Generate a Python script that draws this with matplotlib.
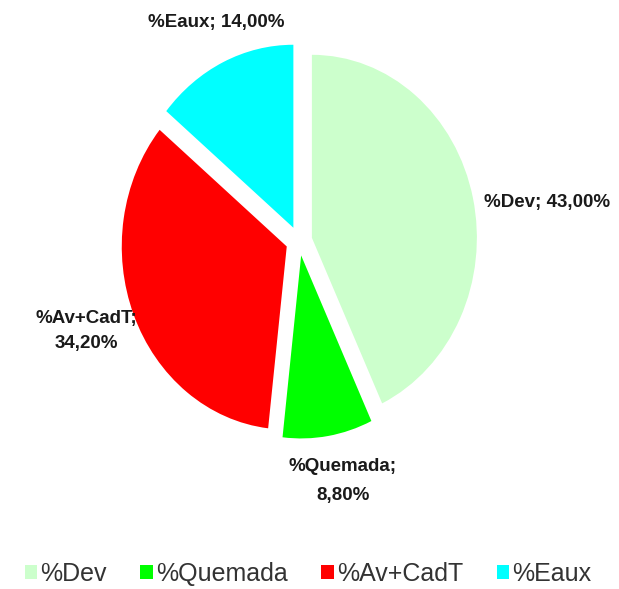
import matplotlib
matplotlib.use("Agg")
import matplotlib.pyplot as plt

# Share of each category (percent)
categories = ["%Dev", "%Quemada", "%Av+CadT", "%Eaux"]
values = [43.00, 8.80, 34.20, 14.00]
colors = ["#ccffcc", "#00ff00", "#ff0000", "#00ffff"]

W, H = 619, 589
fig = plt.figure(figsize=(W / 100, H / 100), dpi=100)
fig.patch.set_facecolor("white")

# Axes placed so the pie centre sits at (299, 241) px with radii 165 x 183 px
cx, cy, rx, ry = 299, 241, 165, 183
aw, ah = 2.5 * rx, 2.5 * ry
ax = fig.add_axes([(cx - aw / 2) / W, (H - cy - ah / 2) / H, aw / W, ah / H])

wedges, _ = ax.pie(values, colors=colors, startangle=90, counterclock=False,
                   explode=[0.08] * len(values), radius=1.0,
                   wedgeprops=dict(linewidth=0))
ax.set_xlim(-1.25, 1.25)
ax.set_ylim(-1.25, 1.25)
ax.set_aspect("auto")
ax.axis("off")


def fmt(v):
    return f"{v:.2f}".replace(".", ",") + "%"


# Data labels: (x px, y px, layout, line spacing)
label_pos = {
    "%Dev": (547, 203, "{c}; {v}", 1.2),
    "%Quemada": (343, 481, "{c};\n{v}", 1.85),
    "%Av+CadT": (86, 331, "{c};\n{v}", 1.65),
    "%Eaux": (216, 22, "{c}; {v}", 1.2),
}
for c, v in zip(categories, values):
    x, y, pattern, ls = label_pos[c]
    fig.text(x / W, 1 - y / H, pattern.format(c=c, v=fmt(v)),
             ha="center", va="center", fontsize=13.5, fontweight="bold",
             family=["Liberation Sans", "DejaVu Sans"], color="#1a1a1a",
             linespacing=ls)

leg = fig.legend(wedges, categories, loc="center", ncol=4,
                 bbox_to_anchor=(308 / W, 1 - 574 / H), frameon=False,
                 prop=dict(family="Liberation Sans", size=18),
                 handlelength=0.5, handleheight=0.5, handletextpad=0.12,
                 columnspacing=1.35, borderpad=0)
for t in leg.get_texts():
    t.set_color("#333333")

fig.savefig("out.png", dpi=100, facecolor="white")
